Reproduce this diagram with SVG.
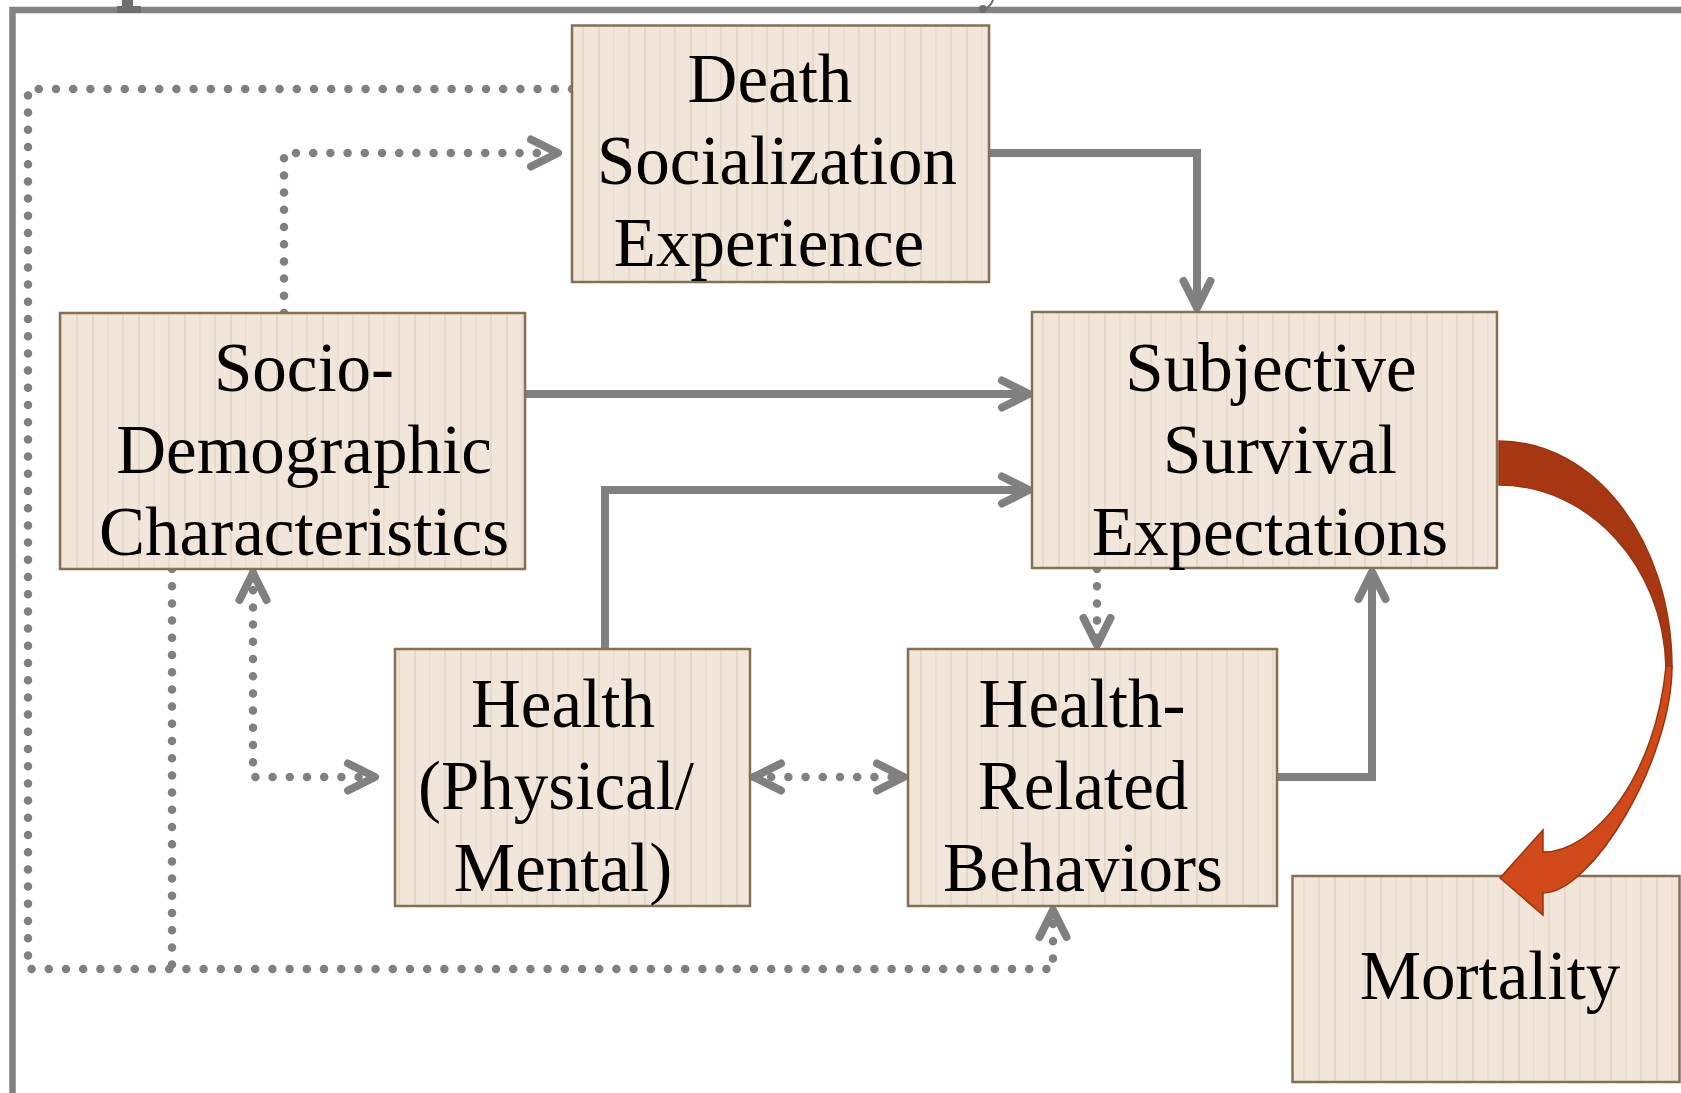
<svg xmlns="http://www.w3.org/2000/svg" width="1681" height="1093" viewBox="0 0 1681 1093">
  <defs>
    <style>
      .frame { fill: none; stroke: #838383; stroke-width: 6.5; }
      .box { fill: url(#stripes); stroke: #857055; stroke-width: 2.5; }
      .label { font-family: "Liberation Serif", "Times New Roman", serif; font-size: 69px; fill: #000; text-anchor: middle; }
      .solid { fill: none; stroke: #808080; stroke-width: 8; stroke-linejoin: miter; }
      .dotted { fill: none; stroke: #808080; stroke-width: 8.5; stroke-linecap: round; stroke-dasharray: 0 17.2; }
      .chev { fill: none; stroke: #808080; stroke-width: 8; stroke-linecap: round; stroke-linejoin: round; }
    </style>
    <pattern id="stripes" width="46" height="10" patternUnits="userSpaceOnUse">
      <rect width="46" height="10" fill="#F1E6D9"/>
      <rect x="0" width="2" height="10" fill="#E4D8C8"/>
      <rect x="15" width="1.5" height="10" fill="#E9DECF"/>
      <rect x="30" width="2" height="10" fill="#E6DACA"/>
    </pattern>
    <marker id="head" markerUnits="userSpaceOnUse" viewBox="-36 -20 44 40" markerWidth="44" markerHeight="40" refX="0" refY="0" orient="auto-start-reverse">
      <path class="chev" d="M-27,-13.5 L0,0 L-27,13.5"/>
    </marker>
  </defs>

  <!-- outer frame -->
  <g id="frame">
    <path class="frame" d="M12.5,1093 V10 H1681"/>
    <path d="M122,0 H133 V6 H141 V13 H117 V6 H122 Z" fill="#6e6e6e"/>
    <ellipse cx="983" cy="9" rx="4" ry="4" fill="#6e6e6e"/>
    <path d="M985,9 Q991,6 993,0" fill="none" stroke="#6e6e6e" stroke-width="2"/>
  </g>

  <!-- connectors -->
  <g id="connectors">
    <path class="solid" d="M990,153 H1197 V308" marker-end="url(#head)"/>
    <path class="solid" d="M525,394 H1029" marker-end="url(#head)"/>
    <path class="solid" d="M605,649 V490 H1029" marker-end="url(#head)"/>
    <path class="solid" d="M1277,777 H1372 V572" marker-end="url(#head)"/>
    <path class="dotted" d="M1097,569 V645" marker-end="url(#head)"/>
    <path class="dotted" d="M754,777 H904" marker-start="url(#head)" marker-end="url(#head)"/>
    <path class="dotted" d="M253,573 V777 H375" marker-start="url(#head)" marker-end="url(#head)"/>
    <path class="dotted" d="M284,313 V153 H558" marker-end="url(#head)"/>
    <path class="dotted" d="M572,89 H28 V969 H1053 V910" marker-end="url(#head)"/>
    <path class="dotted" d="M172,569 V969"/>
  </g>

  <!-- nodes -->
  <g id="death-socialization">
    <rect class="box" x="572" y="25.5" width="417" height="256.5"/>
    <text class="label" x="770" y="102">Death</text>
    <text class="label" x="777" y="184">Socialization</text>
    <text class="label" x="769" y="266">Experience</text>
  </g>

  <g id="socio-demographic">
    <rect class="box" x="60" y="313" width="465" height="256"/>
    <text class="label" x="304" y="391">Socio-</text>
    <text class="label" x="304" y="473">Demographic</text>
    <text class="label" x="304" y="555">Characteristics</text>
  </g>

  <g id="subjective-survival">
    <rect class="box" x="1032" y="312" width="465" height="256"/>
    <text class="label" x="1271" y="391">Subjective</text>
    <text class="label" x="1280" y="473">Survival</text>
    <text class="label" x="1270" y="555">Expectations</text>
  </g>

  <g id="health">
    <rect class="box" x="395" y="649" width="355" height="257"/>
    <text class="label" x="563" y="727">Health</text>
    <text class="label" x="556" y="809">(Physical/</text>
    <text class="label" x="563" y="891">Mental)</text>
  </g>

  <g id="health-related-behaviors">
    <rect class="box" x="908" y="649" width="369" height="257"/>
    <text class="label" x="1082" y="727">Health-</text>
    <text class="label" x="1083" y="809">Related</text>
    <text class="label" x="1083" y="891">Behaviors</text>
  </g>

  <g id="mortality">
    <rect class="box" x="1292.5" y="876" width="387" height="206"/>
    <text class="label" x="1490" y="999">Mortality</text>
  </g>

  <!-- curved arrow to mortality -->
  <g id="mortality-arrow" stroke="#9a3410" stroke-width="1.5" stroke-linejoin="miter">
    <path fill="#A63712" d="M1499,441 C1594,441 1672,540 1672,668 L1666,668 C1664,565 1588,485 1499,485 Z"/>
    <path fill="#D0491A" d="M1672,666 C1672,760 1592,893 1543,893 L1543,915 L1500,878 L1543,830 L1543,852 C1595,852 1656,775 1666,666 Z"/>
  </g>
</svg>
